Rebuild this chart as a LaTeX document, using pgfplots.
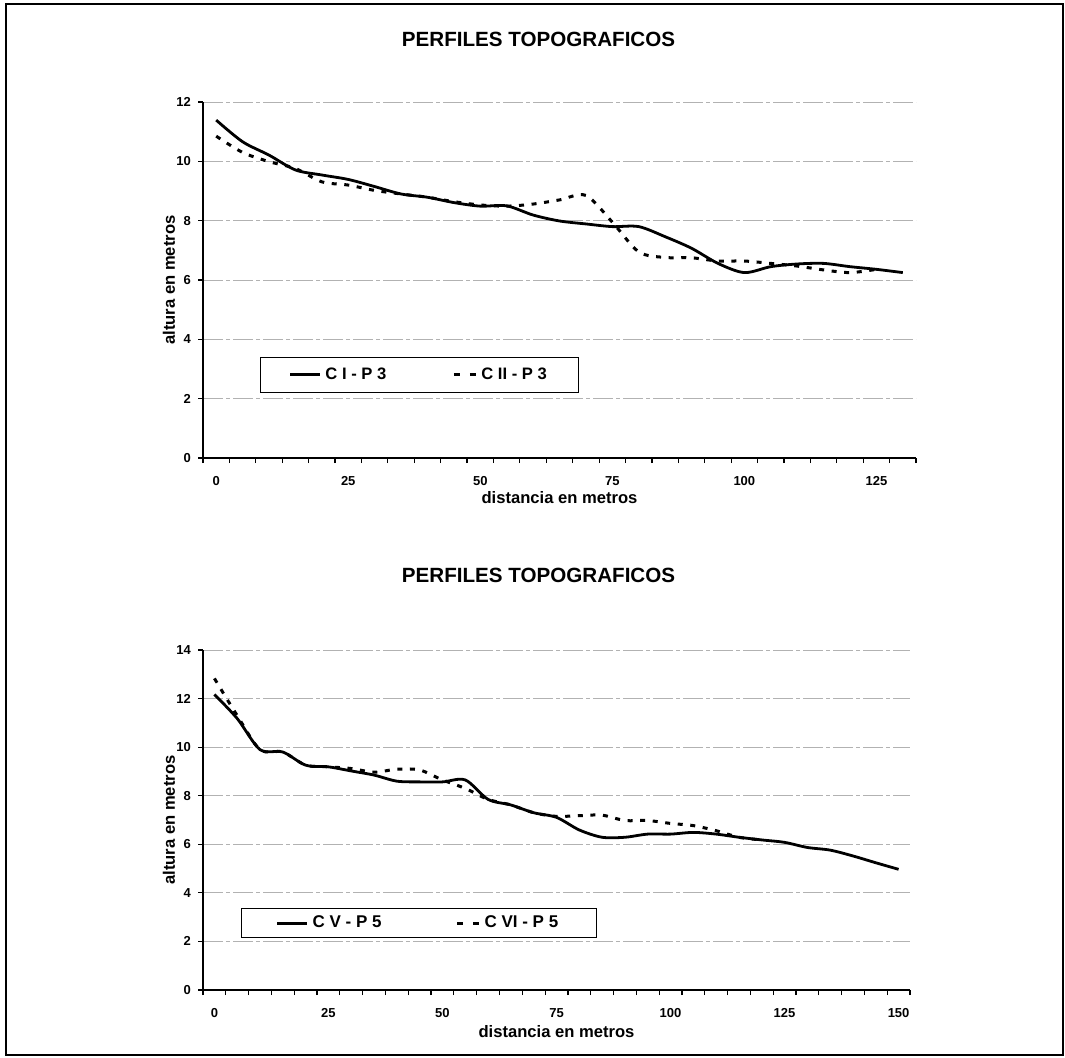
\documentclass[border=0pt]{standalone}
\usepackage{fontspec}
\setmainfont{Liberation Sans}
\usepackage{pgfplots}
\pgfplotsset{compat=1.18}

\pgfplotsset{
 topo/.style={
  scale only axis,
  axis lines=left,
  axis line style={-, black, line width=0.8pt},
  ymin=0,
  tick align=outside,
  major tick length=2.5pt,
  tick style={black, line width=0.6pt},
  ymajorgrids,
  major grid style={gray!60, line width=0.45pt, dash pattern=on 10pt off 1.5pt on 2pt off 1.5pt},
  xticklabels={},
  ticklabel style={font=\bfseries\fontsize{6.5}{7}\selectfont},
  /pgf/number format/assume math mode=true,
  extra x tick style={major tick length=0pt, xticklabel style={yshift=-5.5pt}},
  label style={font=\bfseries\fontsize{8.3}{10}\selectfont},
  legend cell align=left,
  legend image code/.code={\draw[#1] (0pt,0pt) -- (15pt,0pt);},
 },
 solidc/.style={black, line width=1.4pt, smooth, tension=0.5},
 dashc/.style={black, line width=1.5pt, dash pattern=on 2.5pt off 3.8pt, smooth, tension=0.5,
   legend image code/.code={\draw[##1, dash pattern=on 3pt off 5pt] (4pt,0pt) -- (15pt,0pt);}},
}

\begin{document}
\begin{tikzpicture}
\useasboundingbox (0pt,0pt) rectangle (532.5pt,-528.5pt);
\draw[black, line width=1pt] (3pt,-2pt) rectangle (531.5pt,-527.5pt);

\node[font=\bfseries\fontsize{10.3}{12}\selectfont] at (269.25pt,-19.5pt) {PERFILES TOPOGRAFICOS};
\node[font=\bfseries\fontsize{10.3}{12}\selectfont] at (269.25pt,-287.5pt) {PERFILES TOPOGRAFICOS};

% ---------- top chart ----------
\begin{axis}[topo,
  at={(101.5pt,-229pt)}, anchor=south west,
  width=356.5pt, height=178pt,
  xmin=-2.5, xmax=132.5, ymax=12,
  ytick={0,2,...,12},
  xtick={-2.5,2.5,...,132.5},
  extra x ticks={0,25,50,75,100,125},
  extra x tick labels={0,25,50,75,100,125},
  xlabel={distancia en metros},
  ylabel={altura en metros},
  xlabel style={at={(axis description cs:0.5,-0.11)}, anchor=center},
  ylabel style={at={(axis description cs:-0.0477,0.5)}, anchor=center},
  legend style={draw=black, line width=0.6pt, font=\bfseries\fontsize{8.3}{9.5}\selectfont,
    legend columns=2, at={(0.08,0.284)}, anchor=north west,
    inner xsep=14pt, inner ysep=3pt,
    /tikz/every even column/.append style={column sep=31pt}},
]
\addplot[solidc] coordinates {
(0,11.39) (5,10.66) (10,10.21) (15,9.71) (20,9.54) (25,9.39) (30,9.15)
(35,8.90) (40,8.79) (45,8.61) (50,8.49) (55,8.50) (60,8.19) (65,7.99)
(70,7.89) (75,7.80) (80,7.80) (85,7.46) (90,7.07) (95,6.56) (100,6.25)
(105,6.45) (110,6.54) (115,6.56) (120,6.45) (125,6.36) (130,6.25)};
\addlegendentry{C I - P 3}
\addplot[dashc] coordinates {
(0,10.85) (5,10.30) (10,9.99) (15,9.76) (20,9.31) (25,9.20) (30,9.02)
(35,8.90) (40,8.79) (45,8.64) (50,8.53) (55,8.49) (60,8.56) (65,8.70)
(70,8.85) (75,7.95) (80,6.95) (85,6.76) (90,6.75) (95,6.64) (100,6.64)
(105,6.56) (110,6.47) (115,6.34) (120,6.25) (125,6.36)};
\addlegendentry{C II - P 3}
\end{axis}

% ---------- bottom chart ----------
\begin{axis}[topo,
  at={(101.5pt,-495pt)}, anchor=south west,
  width=353.5pt, height=170pt,
  xmin=-2.5, xmax=152.5, ymax=14,
  ytick={0,2,...,14},
  xtick={-2.5,2.5,...,152.5},
  extra x ticks={0,25,50,75,100,125,150},
  extra x tick labels={0,25,50,75,100,125,150},
  xlabel={distancia en metros},
  ylabel={altura en metros},
  xlabel style={at={(axis description cs:0.5,-0.1235)}, anchor=center},
  ylabel style={at={(axis description cs:-0.048,0.5)}, anchor=center},
  legend style={draw=black, line width=0.6pt, font=\bfseries\fontsize{8.5}{9.5}\selectfont,
    legend columns=2, at={(0.054,0.241)}, anchor=north west,
    inner xsep=17pt, inner ysep=1.5pt,
    /tikz/every even column/.append style={column sep=35pt}},
]
\addplot[solidc] coordinates {
(0,12.17) (5,11.18) (10,9.90) (15,9.80) (20,9.26) (25,9.19) (30,9.02)
(35,8.85) (40,8.60) (45,8.57) (50,8.57) (55,8.65) (60,7.85) (65,7.62)
(70,7.30) (75,7.11) (80,6.59) (85,6.29) (90,6.29) (95,6.42) (100,6.42)
(105,6.49) (110,6.42) (115,6.29) (120,6.18) (125,6.08) (130,5.87)
(135,5.76) (140,5.52) (145,5.24) (150,4.97)};
\addlegendentry{C V - P 5}
\addplot[dashc] coordinates {
(0,12.83) (5,11.30) (10,9.90) (15,9.80) (20,9.26) (25,9.19) (30,9.12)
(35,8.97) (40,9.09) (45,9.06) (50,8.65) (55,8.30) (60,7.85) (65,7.62)
(70,7.30) (75,7.15) (80,7.18) (85,7.20) (90,6.98) (95,6.98) (100,6.86)
(105,6.77) (110,6.56) (115,6.29) (120,6.18)};
\addlegendentry{C VI - P 5}
\end{axis}
\end{tikzpicture}
\end{document}
